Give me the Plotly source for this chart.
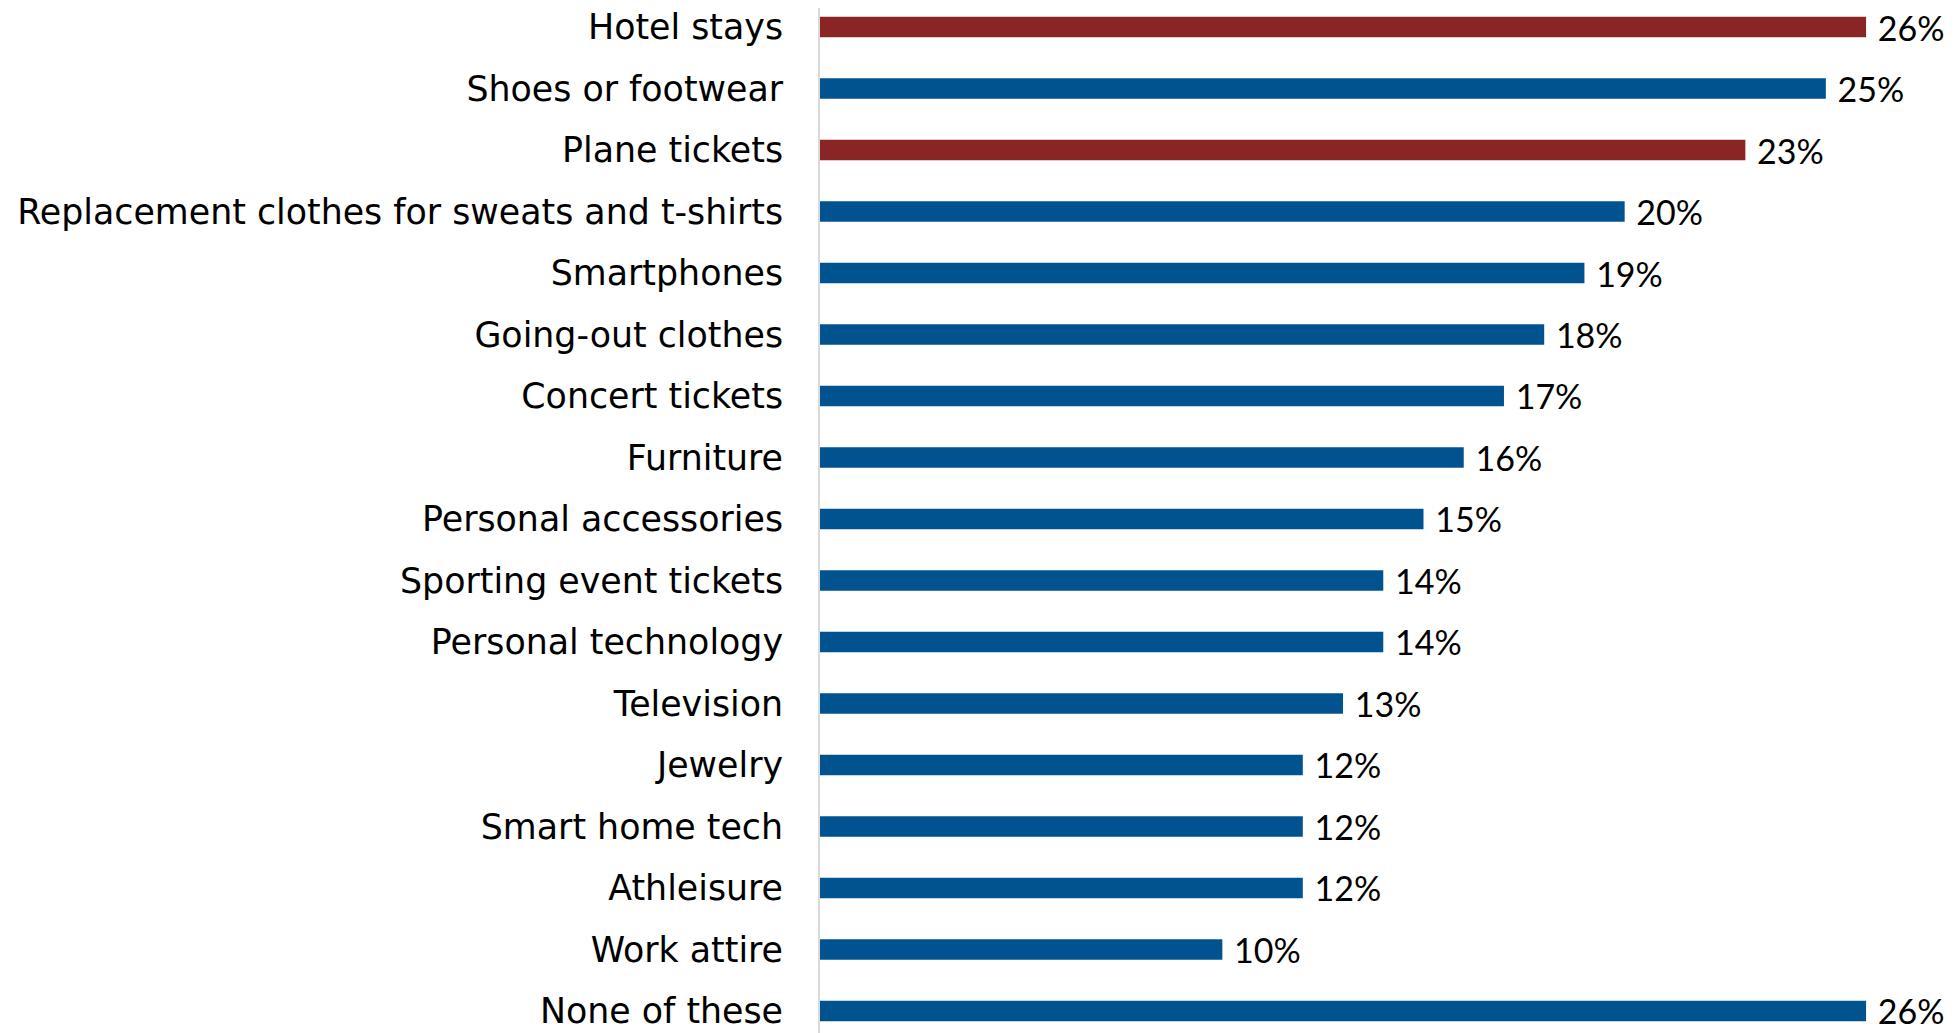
import plotly.graph_objects as go

categories = [
    "Hotel stays", "Shoes or footwear", "Plane tickets",
    "Replacement clothes for sweats and t-shirts", "Smartphones",
    "Going-out clothes", "Concert tickets", "Furniture",
    "Personal accessories", "Sporting event tickets", "Personal technology",
    "Television", "Jewelry", "Smart home tech", "Athleisure",
    "Work attire", "None of these",
]
values = [26, 25, 23, 20, 19, 18, 17, 16, 15, 14, 14, 13, 12, 12, 12, 10, 26]
highlight = [True, False, True] + [False] * 14

RED = "#8A2525"
BLUE = "#00538F"
colors = [RED if h else BLUE for h in highlight]
labels = [f" {v}%" for v in values]

fig = go.Figure(go.Bar(
    x=values, y=categories, orientation="h",
    marker=dict(color=colors, line=dict(width=0)),
    width=0.33,
    text=labels, textposition="outside", cliponaxis=False,
    constraintext="none",
    textfont=dict(family="Lato", size=34, color="#000000"),
))

# page body has an 8px margin, so the figure is sized/offset to compensate
fig.update_layout(
    width=1949, height=1025,
    margin=dict(l=812, r=0, t=0, b=0),
    plot_bgcolor="white", paper_bgcolor="white",
    showlegend=False,
)
fig.update_xaxes(range=[0, 28.26], visible=False, automargin=False)
fig.update_yaxes(
    range=[16.358, -0.309], automargin=False,
    showline=True, linecolor="#D9D9D9", linewidth=2,
    showgrid=False, ticks="", ticklabelstandoff=28,
    tickfont=dict(family="DejaVu Sans", size=34.8, color="#000000"),
)

fig.write_html("out.html")
